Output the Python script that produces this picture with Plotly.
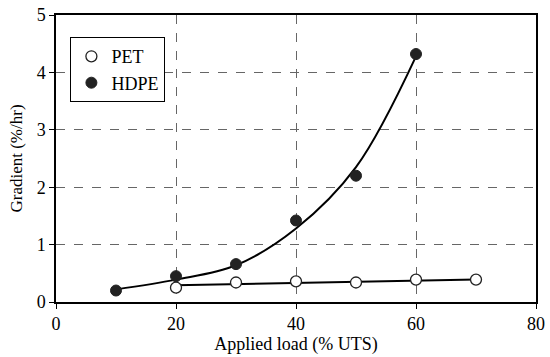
import plotly.graph_objects as go

pet_x = [20, 30, 40, 50, 60, 70]
pet_y = [0.25, 0.34, 0.36, 0.34, 0.39, 0.39]
hdpe_x = [10, 20, 30, 40, 50, 60]
hdpe_y = [0.20, 0.45, 0.66, 1.42, 2.20, 4.32]

pet_fit_x = [20, 70]
pet_fit_y = [0.29, 0.39]
hdpe_fit_x = [10, 20, 30, 40, 50, 60]
hdpe_fit_y = [0.22, 0.39, 0.64, 1.28, 2.35, 4.28]

x_ticks = [0, 20, 40, 60, 80]
y_ticks = [0, 1, 2, 3, 4, 5]

FONT = "Liberation Serif, Times New Roman, serif"

fig = go.Figure()
fig.add_trace(go.Scatter(x=pet_fit_x, y=pet_fit_y, mode="lines",
                         line=dict(color="black", width=2), showlegend=False, hoverinfo="skip"))
fig.add_trace(go.Scatter(x=hdpe_fit_x, y=hdpe_fit_y, mode="lines", line_shape="spline",
                         line=dict(color="black", width=2), showlegend=False, hoverinfo="skip"))
fig.add_trace(go.Scatter(x=pet_x, y=pet_y, mode="markers", name="PET",
                         marker=dict(symbol="circle", size=11, color="white",
                                     line=dict(color="#222", width=1.3))))
fig.add_trace(go.Scatter(x=hdpe_x, y=hdpe_y, mode="markers", name="HDPE",
                         marker=dict(symbol="circle", size=11, color="#222",
                                     line=dict(color="#222", width=1))))

axis_common = dict(showline=True, linecolor="black", linewidth=1.5, mirror=True,
                   ticks="outside", ticklen=5, tickcolor="black", automargin=False,
                   showgrid=True, gridcolor="#666", griddash="dash", gridwidth=1,
                   zeroline=False, tickfont=dict(family=FONT, size=18, color="black"))

fig.update_xaxes(range=[0, 80], tickvals=x_ticks,
                 title=dict(text="Applied load (% UTS)", font=dict(family=FONT, size=18, color="black"), standoff=4),
                 **axis_common)
fig.update_yaxes(range=[0, 5], tickvals=y_ticks,
                 title=dict(text="Gradient (%/hr)", font=dict(family=FONT, size=17, color="black"), standoff=10),
                 **axis_common)

fig.update_layout(
    width=550, height=357,
    margin=dict(l=56, r=14, t=15, b=55),
    paper_bgcolor="white", plot_bgcolor="white",
    font=dict(family=FONT, color="black"),
    legend=dict(x=0.03, y=0.923, xanchor="left", yanchor="top",
                bgcolor="white", bordercolor="black", borderwidth=1,
                font=dict(family=FONT, size=18, color="black"),
                itemwidth=30, tracegroupgap=0),
)

fig.write_html("out.html", config={"displayModeBar": False},
               post_script="document.body.style.margin='0';")
